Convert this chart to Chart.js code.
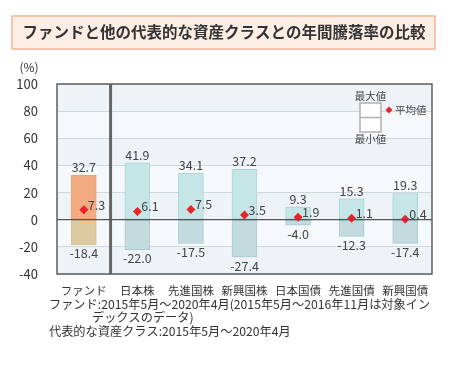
<!DOCTYPE html>
<html><head><meta charset="utf-8">
<script src="https://cdn.jsdelivr.net/npm/chart.js@4/dist/chart.umd.min.js"></script>
<style>html,body{margin:0;padding:0;background:#fff}#wrap{width:460px;height:365px}</style>
</head><body><div id="wrap"><canvas id="c" width="460" height="365"></canvas></div>
<script>
const categories = ['ファンド','日本株','先進国株','新興国株','日本国債','先進国債','新興国債'];
const maxValues = [32.7, 41.9, 34.1, 37.2, 9.3, 15.3, 19.3];
const minValues = [-18.4, -22.0, -17.5, -27.4, -4.0, -12.3, -17.4];
const avgValues = [7.3, 6.1, 7.5, 3.5, 1.9, 1.1, 0.4];
const yTicks = [-40, -20, 0, 20, 40, 60, 80, 100];
const titleText = 'ファンドと他の代表的な資産クラスとの年間騰落率の比較';
const notes = ['ファンド:2015年5月〜2020年4月(2015年5月〜2016年11月は対象イン', 'デックスのデータ)', '代表的な資産クラス:2015年5月〜2020年4月'];

const FONT = '"Noto Sans CJK JP", "Noto Sans", sans-serif';
const posColors = categories.map((c,i)=> i===0 ? '#f2aa81' : '#c6e5e7');
const negColors = categories.map((c,i)=> i===0 ? '#dccaa1' : '#c3dadf');
const posBorders = categories.map((c,i)=> i===0 ? '#eea07a' : '#a9d5d9');
const negBorders = categories.map((c,i)=> i===0 ? '#d6c29a' : '#a9ccd3');

const decor = {
  id: 'decor',
  beforeDraw(chart) {
    const {ctx, chartArea: a, scales: {y}} = chart;
    ctx.save();
    // title box
    ctx.fillStyle = '#fdeee5';
    ctx.fillRect(12, 16, 423, 33);
    ctx.strokeStyle = '#f6b496';
    ctx.lineWidth = 1.5;
    ctx.strokeRect(12, 16, 423, 33);
    ctx.fillStyle = '#333';
    ctx.font = 'bold 15.5px ' + FONT;
    ctx.textAlign = 'center';
    ctx.textBaseline = 'middle';
    ctx.fillText(titleText, 224, 32.5);
    // (%)
    ctx.font = '12px ' + FONT;
    ctx.fillStyle = '#333';
    ctx.fillText('(%)', 29, 67);
    // bands
    for (let i = 0; i < yTicks.length - 1; i++) {
      const top = y.getPixelForValue(yTicks[i+1]);
      const bot = y.getPixelForValue(yTicks[i]);
      ctx.fillStyle = (i % 2 === 0) ? '#edf3f6' : '#f6f9fb';
      ctx.fillRect(a.left, top, a.right - a.left, bot - top);
    }
    // footnotes
    ctx.textAlign = 'left';
    ctx.fillStyle = '#333';
    ctx.font = '12.2px ' + FONT;
    ctx.fillText(notes[0], 49, 304);
    ctx.fillText(notes[1], 92, 317.5);
    ctx.fillText(notes[2], 49, 331);
    ctx.restore();
  },
  beforeDatasetsDraw(chart) {
    const {ctx, chartArea: a, scales: {x, y}} = chart;
    ctx.save();
    const sx = (x.getPixelForValue(0) + x.getPixelForValue(1)) / 2;
    ctx.strokeStyle = '#666';
    ctx.lineWidth = 3;
    ctx.beginPath(); ctx.moveTo(sx, a.top); ctx.lineTo(sx, a.bottom); ctx.stroke();
    ctx.restore();
  },
  afterDatasetsDraw(chart) {
    const {ctx, chartArea: a, scales: {x, y}} = chart;
    ctx.save();
    const z = y.getPixelForValue(0);
    ctx.strokeStyle = '#555';
    ctx.lineWidth = 1.2;
    ctx.beginPath(); ctx.moveTo(a.left, z); ctx.lineTo(a.right, z); ctx.stroke();
    ctx.strokeStyle = '#5c5f62';
    ctx.lineWidth = 1.5;
    ctx.strokeRect(a.left, a.top, a.right - a.left, a.bottom - a.top);
    // legend
    ctx.fillStyle = '#fff';
    ctx.fillRect(360, 103, 21, 29);
    ctx.strokeStyle = '#b0b0b0';
    ctx.lineWidth = 1.5;
    ctx.strokeRect(360, 103, 21, 29);
    ctx.beginPath(); ctx.moveTo(360, 117.5); ctx.lineTo(381, 117.5); ctx.stroke();
    ctx.fillStyle = '#444';
    ctx.font = '10.5px ' + FONT;
    ctx.textAlign = 'center';
    ctx.textBaseline = 'middle';
    ctx.fillText('最大値', 370.5, 96);
    ctx.fillText('最小値', 370.5, 139);
    ctx.textAlign = 'left';
    ctx.fillText('平均値', 395, 110);
    ctx.fillStyle = '#e8242a';
    ctx.beginPath();
    ctx.moveTo(389, 106.5); ctx.lineTo(392.5, 110); ctx.lineTo(389, 113.5); ctx.lineTo(385.5, 110); ctx.closePath();
    ctx.fill();
    // value labels
    ctx.fillStyle = '#444';
    ctx.font = '12.5px ' + FONT;
    categories.forEach((c, i) => {
      const px = x.getPixelForValue(i);
      ctx.textAlign = 'center';
      ctx.fillText(maxValues[i].toFixed(1), px, y.getPixelForValue(maxValues[i]) - 8);
      ctx.fillText(minValues[i].toFixed(1), px, y.getPixelForValue(minValues[i]) + 9);
      ctx.textAlign = 'left';
      ctx.fillText(avgValues[i].toFixed(1), px + 4, y.getPixelForValue(avgValues[i]) - 5);
    });
    ctx.restore();
  }
};

new Chart(document.getElementById('c'), {
  type: 'bar',
  data: {
    labels: categories,
    datasets: [
      { type: 'line', data: avgValues, showLine: false, pointStyle: 'rectRot', pointRadius: 4.5,
        pointBackgroundColor: '#e8242a', pointBorderWidth: 0, order: 0 },
      { data: maxValues.map(v => [0, v]), backgroundColor: posColors, borderColor: posBorders,
        borderWidth: 1, borderSkipped: false, grouped: false, order: 1 },
      { data: minValues.map(v => [v, 0]), backgroundColor: negColors, borderColor: negBorders,
        borderWidth: 1, borderSkipped: false, grouped: false, order: 1 }
    ]
  },
  options: {
    responsive: false,
    animation: false,
    devicePixelRatio: 1,
    layout: { padding: { top: 84, right: 28, bottom: 66, left: 0 } },
    plugins: { legend: { display: false }, tooltip: { enabled: false } },
    datasets: { bar: { barThickness: 25 } },
    scales: {
      x: {
        grid: { display: false, drawTicks: false },
        border: { display: false },
        ticks: { color: '#333', font: { family: FONT, size: 11.5 }, padding: 10 },
        afterFit(s) { s.height = 25; }
      },
      y: {
        min: -40, max: 100,
        afterBuildTicks(s) { s.ticks = yTicks.map(v => ({ value: v })); },
        grid: { color: '#cfd8dc', lineWidth: 1, drawTicks: false },
        border: { display: false },
        ticks: { color: '#333', font: { family: FONT, size: 13 }, padding: 19 },
        afterFit(s) { s.width = 57; }
      }
    }
  },
  plugins: [decor]
});
</script></body></html>
